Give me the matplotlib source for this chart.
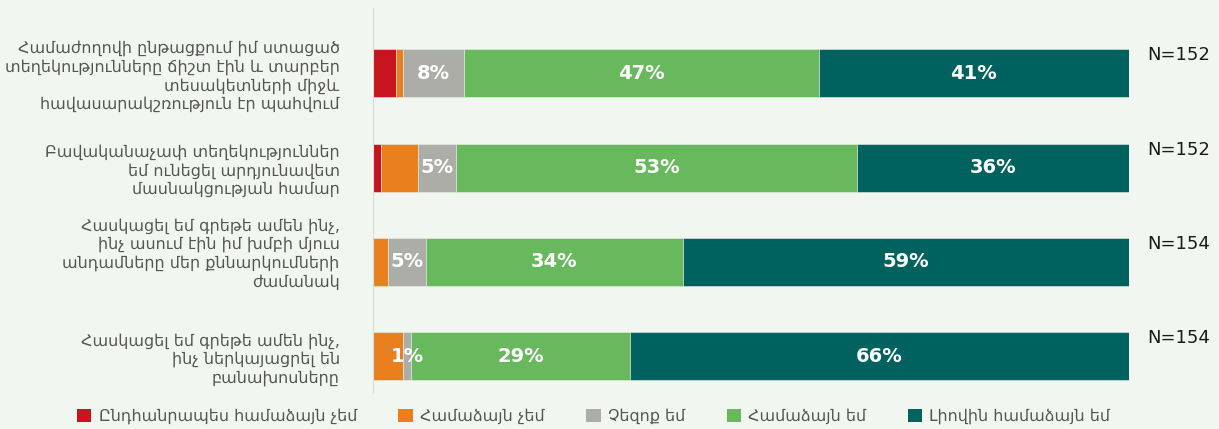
import matplotlib.pyplot as plt
import matplotlib.transforms as mtransforms
from matplotlib.patches import Patch

# survey statements (top to bottom)
statements = [
    "Համաժողովի ընթացքում իմ ստացած\nտեղեկությունները ճիշտ էին և տարբեր\nտեսակետների միջև\nհավասարակշռություն էր պահվում",
    "Բավականաչափ տեղեկություններ\nեմ ունեցել արդյունավետ\nմասնակցության համար",
    "Հասկացել եմ գրեթե ամեն ինչ,\nինչ ասում էին իմ խմբի մյուս\nանդամները մեր քննարկումների\nժամանակ",
    "Հասկացել եմ գրեթե ամեն ինչ,\nինչ ներկայացրել են\nբանախոսները",
]
n_resp = [152, 152, 154, 154]

answers = ["Ընդհանրապես համաձայն չեմ", "Համաձայն չեմ", "Չեզոք եմ",
           "Համաձայն եմ", "Լիովին համաձայն եմ"]
strongly_disagree = [3, 1, 0, 0]
disagree = [1, 5, 2, 4]
neutral = [8, 5, 5, 1]
agree = [47, 53, 34, 29]
strongly_agree = [41, 36, 59, 66]

series = [strongly_disagree, disagree, neutral, agree, strongly_agree]
colors = ["#c8141e", "#ea7f1e", "#adada8", "#68b95e", "#00625e"]
labelled = [False, False, True, True, True]

bg = "#f2f6f0"
fig = plt.figure(figsize=(12.19, 4.29), dpi=100, facecolor=bg)
ax = fig.add_axes([0.306, 0.086, 0.62, 0.895], facecolor=bg)

ypos = list(range(len(statements)))
left = [0] * len(statements)
for vals, col, show in zip(series, colors, labelled):
    bars = ax.barh(ypos, vals, left=left, height=0.51, color=col,
                   edgecolor="#e8efe6", linewidth=0.4)
    if show:
        ax.bar_label(bars, labels=[f"{v}%" if v else "" for v in vals],
                     label_type="center", color="white", fontsize=14,
                     fontweight="bold", family="DejaVu Sans")
    left = [a + b for a, b in zip(left, vals)]

for y, n in zip(ypos, n_resp):
    ax.text(102.4, y - 0.19, f"N={n}", fontsize=13, color="#1a1a1a",
            va="center", ha="left", clip_on=False)

ax.set_xlim(0, 100)
ax.set_ylim(3.38, -0.69)
ax.set_xticks([])
ax.set_yticks(ypos)
ax.set_yticklabels(statements, fontsize=11.5, color="#555555",
                   family="DejaVu Sans", linespacing=1.25)
ax.tick_params(axis="y", length=0, pad=24)
# third statement sits a little higher than its bar
lab3 = ax.get_yticklabels()[2]
lab3.set_transform(lab3.get_transform() +
                   mtransforms.ScaledTranslation(0, 0.11, fig.dpi_scale_trans))
for side in ["top", "right", "bottom"]:
    ax.spines[side].set_visible(False)
ax.spines["left"].set_color("#d9dcd6")

handles = [Patch(facecolor=c, label=a) for c, a in zip(colors, answers)]
fig.legend(handles=handles, loc="center", bbox_to_anchor=(0.487, 0.03),
           ncol=5, frameon=False, fontsize=11.5, labelcolor="#555555",
           handlelength=0.9, handleheight=0.9, handletextpad=0.45,
           columnspacing=2.6)

fig.savefig("out.png", dpi=100, facecolor=bg)
